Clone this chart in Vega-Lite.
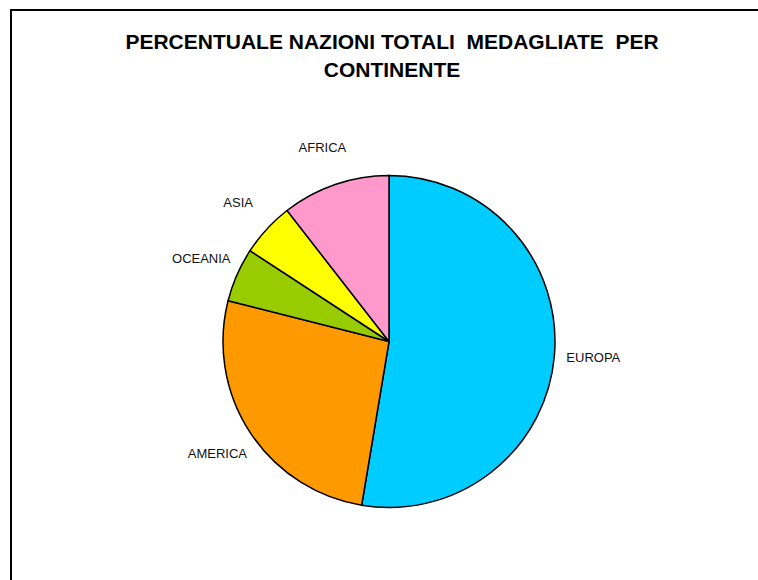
{
  "$schema": "https://vega.github.io/schema/vega-lite/v6.json",
  "width": 756,
  "height": 663,
  "autosize": {"type": "none"},
  "padding": {"left": 11, "top": 10, "right": 0, "bottom": 0},
  "background": "white",
  "view": {"stroke": "#000000", "strokeWidth": 2, "fill": "white"},
  "title": {
    "text": ["PERCENTUALE NAZIONI TOTALI\u00a0\u00a0MEDAGLIATE\u00a0\u00a0PER", "CONTINENTE"],
    "font": "Liberation Sans",
    "fontSize": 21,
    "fontWeight": "bold",
    "color": "#000000",
    "lineHeight": 28,
    "anchor": "middle",
    "frame": "group",
    "offset": -71,
    "dx": 3
  },
  "data": {
    "values": [
      {"continente": "EUROPA", "nazioni": 20, "ordine": 1},
      {"continente": "AMERICA", "nazioni": 10, "ordine": 2},
      {"continente": "OCEANIA", "nazioni": 2, "ordine": 3},
      {"continente": "ASIA", "nazioni": 2, "ordine": 4},
      {"continente": "AFRICA", "nazioni": 4, "ordine": 5}
    ]
  },
  "encoding": {
    "theta": {"field": "nazioni", "type": "quantitative", "stack": true},
    "order": {"field": "ordine", "type": "quantitative", "sort": "ascending"}
  },
  "layer": [
    {
      "mark": {"type": "arc", "outerRadius": 166, "stroke": "#000000", "strokeWidth": 1.5},
      "encoding": {
        "color": {
          "field": "continente",
          "type": "nominal",
          "scale": {
            "domain": ["EUROPA", "AMERICA", "OCEANIA", "ASIA", "AFRICA"],
            "range": ["#00CCFF", "#FF9900", "#99CC00", "#FFFF00", "#FF99CC"]
          },
          "legend": null
        }
      }
    },
    {
      "mark": {"type": "text", "radius": 205, "font": "Liberation Sans", "fontSize": 13, "color": "#111111"},
      "encoding": {
        "text": {"field": "continente", "type": "nominal"}
      }
    }
  ]
}
